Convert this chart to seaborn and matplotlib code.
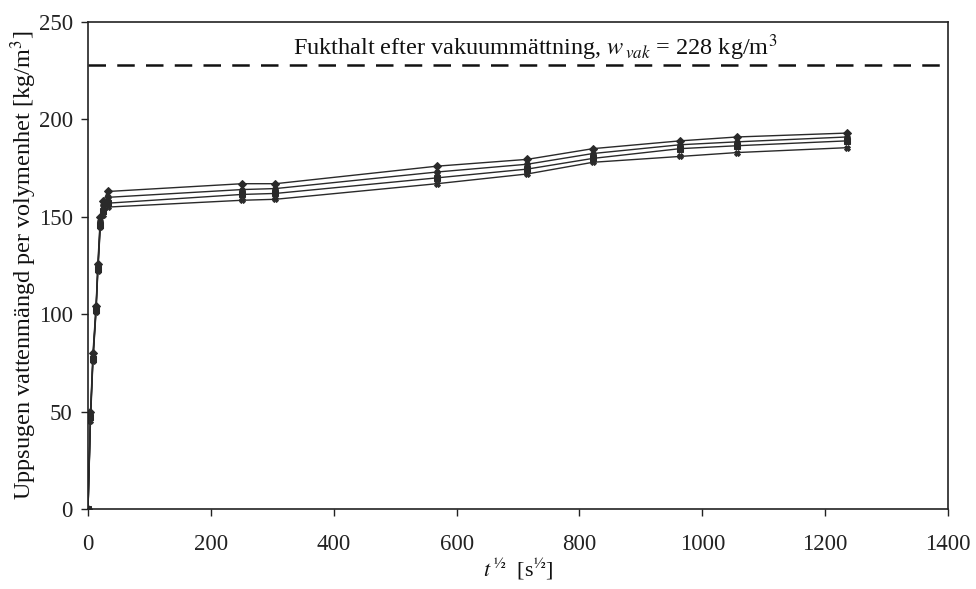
import matplotlib
matplotlib.use("Agg")
import matplotlib.pyplot as plt
import seaborn as sns
import pandas as pd

# ---- data ----
t_sqrt = [0, 4, 8, 13, 16, 20, 25, 32, 251, 305, 568, 715, 822, 964, 1057, 1236]
serie_1 = [0, 50, 80, 104, 126, 150, 158, 163, 167, 167, 176, 179.5, 185, 189, 191, 193]
serie_2 = [0, 48, 78, 103, 124, 148, 156, 160, 164, 164.5, 173, 177, 182.5, 187, 188.5, 191]
serie_3 = [0, 47, 77, 102, 123, 146, 153, 157, 161.5, 162, 170, 174.5, 180, 185, 186.5, 189]
serie_4 = [0, 45, 76, 101, 122, 145, 151, 155, 158.5, 159, 167, 172, 178, 181, 183, 185.5]
series_names = ["Prov 1", "Prov 2", "Prov 3", "Prov 4"]
w_vak = 228
x_ticks = [0, 200, 400, 600, 800, 1000, 1200, 1400]
y_ticks = [0, 50, 100, 150, 200, 250]

rows = []
for name, vals in zip(series_names, [serie_1, serie_2, serie_3, serie_4]):
    for x, y in zip(t_sqrt, vals):
        rows.append({"t": x, "w": y, "serie": name})
df = pd.DataFrame(rows)

sns.set_theme(style="white")
plt.rcParams["font.family"] = ["Liberation Serif", "DejaVu Serif"]
plt.rcParams["mathtext.fontset"] = "stix"

fig = plt.figure(figsize=(9.76, 5.89), dpi=100)
ax = fig.add_axes([0.0902, 0.1358, 0.8811, 0.8268])

sns.lineplot(data=df, x="t", y="w", hue="serie", style="serie",
             palette=["#2a2a2a"] * 4, markers=["D", "o", "s", "X"],
             dashes=False, markersize=4, linewidth=1.0, markeredgecolor="#2a2a2a",
             sort=False, legend=False, ax=ax)

ax.axhline(w_vak, color="#111111", linestyle=(0, (7, 4.5)), linewidth=1.8)
ax.text(728, 237, r"Fukthalt efter vakuummättning, $w_{\,vak}$ = 228 kg/m$^3$",
        ha="center", va="center", fontsize=17.5, color="#111111")

ax.set_xlim(0, 1400)
ax.set_ylim(0, 250)
ax.set_xticks(x_ticks)
ax.set_yticks(y_ticks)
ax.tick_params(axis="both", direction="out", length=5, width=1, colors="#222222",
               labelsize=16.5, left=True, bottom=True)
ax.tick_params(axis="x", pad=13)
ax.tick_params(axis="y", pad=6)
for s in ax.spines.values():
    s.set_color("#222222")
    s.set_linewidth(1.2)

ax.set_xlabel(r"$t^{\,½}$  [s$^{½}$]", fontsize=16, labelpad=1, color="#111111")
ax.set_ylabel(r"Uppsugen vattenmängd per volymenhet [kg/m$^3$]", fontsize=17.5,
              labelpad=0, color="#111111")

fig.savefig("out.png", dpi=100)
